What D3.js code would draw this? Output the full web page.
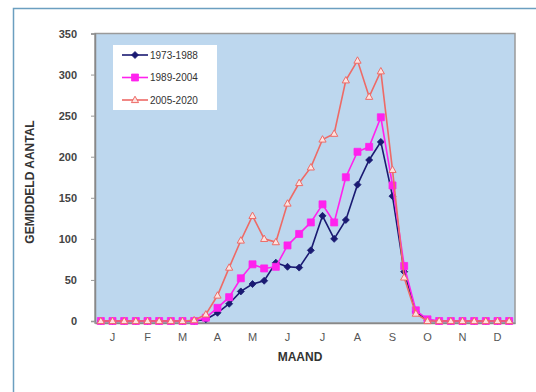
<!DOCTYPE html>
<html>
<head>
<meta charset="utf-8">
<script src="https://cdn.jsdelivr.net/npm/d3@7"></script>
<style>
body{margin:0;background:#fff;overflow:hidden;}
svg{display:block;font-family:'Liberation Sans',Arial,sans-serif;}
</style>
</head>
<body>
<svg id="chart" width="536" height="392"></svg>
<script>
'use strict';

// decades: 3 per month
var months=['J','F','M','A','M','J','J','A','S','O','N','D'];
var yTicks=[0,50,100,150,200,250,300,350];
var seriesNames=['1973-1988','1989-2004','2005-2020'];
var s1973=[0,0,0,0,0,0,0,0,0,2,10,21,36,45,49,71,66,65,86,128,100,123,166,196,218,152,60,11,1,0,0,0,0,0,0,0];
var s1989=[0,0,0,0,0,0,0,0,0,4,16,29,52,69,64,66,92,106,120,142,120,175,206,212,248,165,67,13,2,0,0,0,0,0,0,0];
var s2005=[0,0,0,0,0,0,0,0,1,8,31,65,98,128,100,96,143,168,187,221,228,293,317,273,304,184,53,9,0,0,0,0,0,0,0,0];

var svg=d3.select('#chart')
  , L=95, R=515, T=33.5, B=321, B2=323
  , decades=d3.range(36)
  , x=d3.scaleBand().domain(decades).range([L,R])
  , xm=d3.scaleBand().domain(d3.range(12)).range([L,R])
  , y=d3.scaleLinear().domain([0,350]).range([B,T])

// outer frame, only top and left edges fall inside the picture
svg.append('path')
    .attr('d','M13.5,392V8.5H536')
    .attr('fill','none')
    .attr('stroke','#6b9fc0')
    .attr('stroke-width',1.5);

// plot area
svg.append('rect')
    .attr('x',L).attr('y',T)
    .attr('width',R-L).attr('height',B2-T)
    .attr('fill','#bdd7ee')
    .attr('stroke','#9a9a9a')
    .attr('stroke-width',1.5);

// y axis
var ya=svg.append('g')
    .attr('transform','translate('+L+',0)')
    .call(d3.axisLeft(y).tickValues(yTicks).tickSize(4).tickPadding(14));
ya.select('.domain').attr('stroke','#888').attr('stroke-width',1.5);
ya.selectAll('.tick line').attr('stroke','#999');
ya.selectAll('text')
    .attr('fill','#444')
    .style('font-size','11px')
    .style('font-weight','bold')
    .style('font-family','Liberation Sans, Arial, sans-serif');

// x axis (month labels)
var xa=svg.append('g')
    .attr('transform','translate(0,'+B2+')')
    .call(d3.axisBottom(xm).tickFormat(function(d){return months[d];}).tickSize(0).tickPadding(10));
xa.select('.domain').attr('stroke','#888').attr('stroke-width',1.5);
xa.selectAll('text')
    .attr('fill','#555')
    .style('font-size','11px')
    .style('font-family','Liberation Sans, Arial, sans-serif');

// axis titles
svg.append('text')
    .attr('x',300).attr('y',361)
    .attr('text-anchor','middle')
    .attr('fill','#333')
    .style('font-size','12px')
    .style('font-weight','bold')
    .text('MAAND');
svg.append('text')
    .attr('transform','translate(34,182) rotate(-90)')
    .attr('text-anchor','middle')
    .attr('fill','#333')
    .style('font-size','12px')
    .style('font-weight','bold')
    .text('GEMIDDELD AANTAL');

var cx=function(i){return x(i)+x.bandwidth()/2;}
  , line=d3.line().x(function(d,i){return cx(i);}).y(function(d){return y(d);})
  , series=[
        {name:seriesNames[0],data:s1973,color:'#1a1a72',marker:'diamond'}
      , {name:seriesNames[1],data:s1989,color:'#ff22ee',marker:'square'}
      , {name:seriesNames[2],data:s2005,color:'#ee6a66',marker:'triangle'}
    ]

var markerPath=function(type){
    if(type=='diamond') return 'M0,-3.5L3.5,0L0,3.5L-3.5,0Z';
    if(type=='square') return 'M-3.5,-3.5H3.5V3.5H-3.5Z';
    return 'M0,-3.8L3.6,2.6H-3.6Z';
};

var drawMarker=function(g,s,px,py){
    g.append('path')
        .attr('d',markerPath(s.marker))
        .attr('transform','translate('+px+','+py+')')
        .attr('fill',s.marker=='triangle'?'#fde3e0':s.color)
        .attr('stroke',s.color)
        .attr('stroke-width',s.marker=='triangle'?1:0.8);
};

series.forEach(function(s){
    var g=svg.append('g');
    g.append('path')
        .attr('d',line(s.data))
        .attr('fill','none')
        .attr('stroke',s.color)
        .attr('stroke-width',1.6);
    s.data.forEach(function(v,i){
        drawMarker(g,s,cx(i),y(v));
    });
});

// legend
var lg=svg.append('g');
lg.append('rect')
    .attr('x',113).attr('y',45)
    .attr('width',104).attr('height',65)
    .attr('fill','#fff');
series.forEach(function(s,i){
    var ly=55+i*22.5;
    lg.append('line')
        .attr('x1',122).attr('x2',148)
        .attr('y1',ly).attr('y2',ly)
        .attr('stroke',s.color)
        .attr('stroke-width',1.6);
    drawMarker(lg,s,135,ly);
    lg.append('text')
        .attr('x',150).attr('y',ly+3.5)
        .attr('fill','#333')
        .style('font-size','10px')
        .text(s.name);
});
</script>
</body>
</html>
